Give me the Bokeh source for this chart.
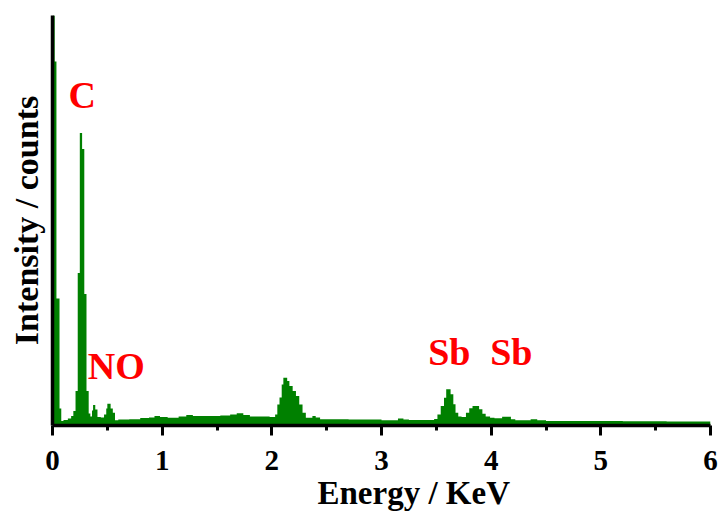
from bokeh.plotting import figure
from bokeh.models import Range1d, FixedTicker, Label, Title
from bokeh.embed import file_html
from bokeh.resources import INLINE

# EDS spectrum (bin left edge in keV, intensity in arbitrary counts)
energy = [0.000, 0.020, 0.036, 0.064, 0.080, 0.10, 0.14, 0.17, 0.19, 0.21,
          0.23, 0.249, 0.27, 0.29, 0.31, 0.33, 0.345, 0.36, 0.37, 0.39,
          0.41, 0.44, 0.47, 0.49, 0.50, 0.53, 0.55, 0.57, 0.60, 0.70,
          0.80, 0.88, 0.93, 0.98, 1.05, 1.15, 1.22, 1.28, 1.38, 1.53,
          1.62, 1.68, 1.74, 1.80, 1.98, 2.03, 2.05, 2.07, 2.09, 2.105,
          2.14, 2.16, 2.19, 2.22, 2.25, 2.28, 2.31, 2.37, 2.40, 2.44,
          2.70, 3.00, 3.15, 3.20, 3.25, 3.48, 3.51, 3.54, 3.57, 3.59,
          3.63, 3.655, 3.675, 3.70, 3.73, 3.77, 3.80, 3.83, 3.89, 3.92,
          3.95, 3.99, 4.03, 4.10, 4.18, 4.22, 4.36, 4.42, 4.50, 4.80,
          5.20, 5.60, 6.00]
counts = [410, 364, 127, 17, 4.5, 5.5, 7, 9.5, 14.5, 34.5,
          152.5, 292.5, 276.5, 131.5, 34.5, 12, 9, 15, 20.5, 16,
          8.5, 8, 11, 17, 21.8, 17, 12.8, 5.2, 6, 6.2,
          7.5, 8, 9.5, 8.5, 7.8, 9, 10.5, 9.5, 9.5, 10,
          11, 12.2, 10.5, 9, 8.5, 11, 21, 28, 41, 47.8,
          44.5, 39.5, 34.5, 29.5, 21, 12.8, 7.8, 9.5, 8, 6.2,
          6, 5.2, 7, 6, 5.5, 6.5, 11, 19.5, 27.8, 36.2,
          31.2, 21.2, 12.8, 9, 8.5, 12.8, 17.2, 19.5, 16.2, 11.8,
          9, 7.8, 7.2, 8.8, 6.2, 5.2, 6.2, 5.2, 4.5, 4.5,
          4.2, 4, 4]

x_ticks = [0, 1, 2, 3, 4, 5, 6]
x_minor = [0.5, 1.5, 2.5, 3.5, 4.5, 5.5]

element_labels = ["C", "NO", "Sb", "Sb"]
label_energy = [0.272, 0.582, 3.618, 4.184]
label_height = [331, 60, 74, 74]

x_title = "Energy / KeV"
y_title = "Intensity / counts"

FONT = "Liberation Serif"

p = figure(width=724, height=519, output_backend="svg", toolbar_location=None,
           x_range=Range1d(0, 6), y_range=Range1d(0, 410),
           min_border_left=52, min_border_right=14, min_border_top=15,
           min_border_bottom=94)

p.varea_step(x=energy, y1=[0] * len(energy), y2=counts, step_mode="after",
             fill_color="#008000")

p.outline_line_color = None
p.xgrid.visible = False
p.ygrid.visible = False
p.background_fill_color = "white"
p.border_fill_color = "white"

xa = p.xaxis[0]
xa.ticker = FixedTicker(ticks=x_ticks, minor_ticks=x_minor)
xa.axis_line_width = 3.5
xa.axis_line_color = "black"
xa.major_tick_in = 0
xa.major_tick_out = 10
xa.major_tick_line_width = 3
xa.minor_tick_in = 0
xa.minor_tick_out = 5
xa.minor_tick_line_width = 3
xa.major_label_text_font = FONT
xa.major_label_text_font_style = "bold"
xa.major_label_text_font_size = "29px"
xa.major_label_text_color = "black"
xa.major_label_standoff = 15

p.add_layout(Title(text=x_title, align="left", offset=265,
                   vertical_align="bottom", standoff=0,
                   text_font=FONT, text_font_style="bold",
                   text_font_size="33px", text_color="black"), "below")

ya = p.yaxis[0]
ya.ticker = FixedTicker(ticks=[])
ya.axis_line_width = 3.5
ya.axis_line_color = "black"
ya.major_tick_out = 0
ya.major_tick_in = 0
ya.minor_tick_out = 0
ya.minor_tick_in = 0
ya.major_label_text_font_size = "0px"
ya.axis_label = y_title
ya.axis_label_text_font = FONT
ya.axis_label_text_font_style = "bold"
ya.axis_label_text_font_size = "34px"
ya.axis_label_text_color = "black"
ya.axis_label_standoff = 8

for t, xe, yh in zip(element_labels, label_energy, label_height):
    p.add_layout(Label(x=xe, y=yh, text=t, text_align="center",
                       text_baseline="alphabetic", text_font=FONT,
                       text_font_style="bold", text_font_size="38px",
                       text_color="#ff0000"))

open("out.html", "w").write(file_html(p, INLINE))
